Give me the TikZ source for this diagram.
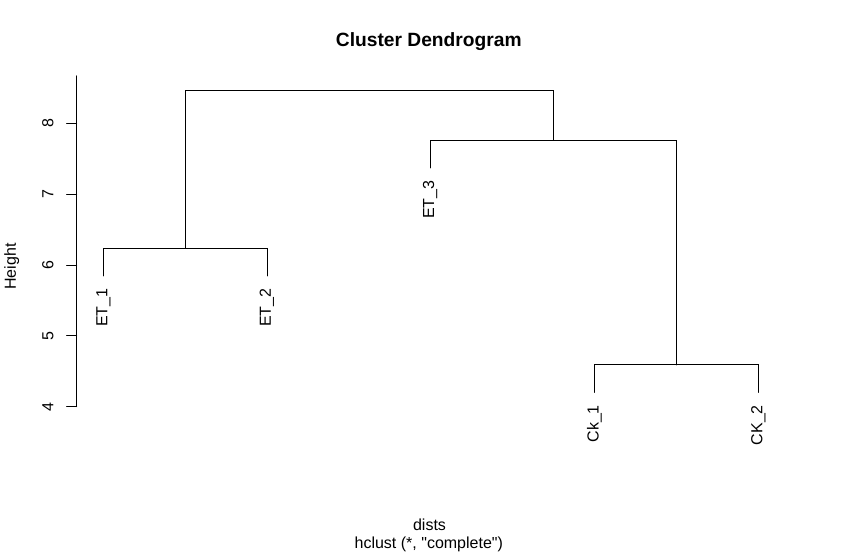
\documentclass[tikz,border=0pt]{standalone}
\usepackage{fontspec}
\setmainfont{Liberation Sans}
\usepackage{tikz}

\tikzset{
  branch/.style={line width=1pt, line cap=round},
  leaflabel/.style={rotate=90, anchor=east, inner sep=0pt, font=\fontsize{16pt}{19pt}\selectfont},
  ticklabel/.style={rotate=90, anchor=base, inner sep=0pt, font=\fontsize{16pt}{19pt}\selectfont},
  plaintext/.style={anchor=base, inner sep=0pt, font=\fontsize{16pt}{19pt}\selectfont}
}

\begin{document}
\begin{tikzpicture}[x=1pt, y=70.8pt]

    % Page frame (heights as y, pixels as x)
    \useasboundingbox (0,1.934) rectangle (862,9.744);

    % Title and axis texts
    \node[plaintext, font=\fontsize{19.2pt}{23pt}\selectfont\bfseries] (title) at (428.8,9.088) {Cluster Dendrogram};
    \node[plaintext] (xlab) at (429.5,2.249) {dists};
    \node[plaintext] (sublab) at (428.8,2.000) {hclust (*, \textquotedbl complete\textquotedbl)};
    \node[ticklabel] (ylab) at (16,5.978) {Height};

    % Height axis
    \coordinate (axbot) at (76.7,4);
    \coordinate (axtop) at (76.7,8.671);
    \draw[branch] (axbot) -- (axtop);
    \foreach \h in {4,...,8} {
        \coordinate (tick\h) at (76.7,\h);
        \draw[branch] (tick\h) -- ++(-10,0);
        \node[ticklabel] (ticklab\h) at (53.3,\h) {\h};
    }

    % Leaf tips
    \coordinate (et1) at (103.5,5.849);
    \coordinate (et2) at (267.0,5.849);
    \coordinate (et3) at (430.0,7.374);
    \coordinate (ck1) at (594.3,4.201);
    \coordinate (ck2) at (758.3,4.201);

    % Merge points
    \coordinate (metab) at (185.3,6.237);
    \coordinate (mck) at (676.3,4.589);
    \coordinate (methree) at (553.2,7.762);
    \coordinate (mroot) at (369.2,8.471);

    % Branches
    \draw[branch] (et1) |- (metab) -| (et2);
    \draw[branch] (ck1) |- (mck) -| (ck2);
    \draw[branch] (et3) |- (methree) -| (mck);
    \draw[branch] (metab) |- (mroot) -| (methree);

    % Leaf labels
    \node[leaflabel] (lab1) at ([yshift=-12.5pt]et1) {ET\_1};
    \node[leaflabel] (lab2) at ([yshift=-12.5pt]et2) {ET\_2};
    \node[leaflabel] (lab3) at ([yshift=-12.5pt]et3) {ET\_3};
    \node[leaflabel] (lab4) at ([yshift=-12.5pt]ck1) {Ck\_1};
    \node[leaflabel] (lab5) at ([yshift=-12.5pt]ck2) {CK\_2};

\end{tikzpicture}
\end{document}
